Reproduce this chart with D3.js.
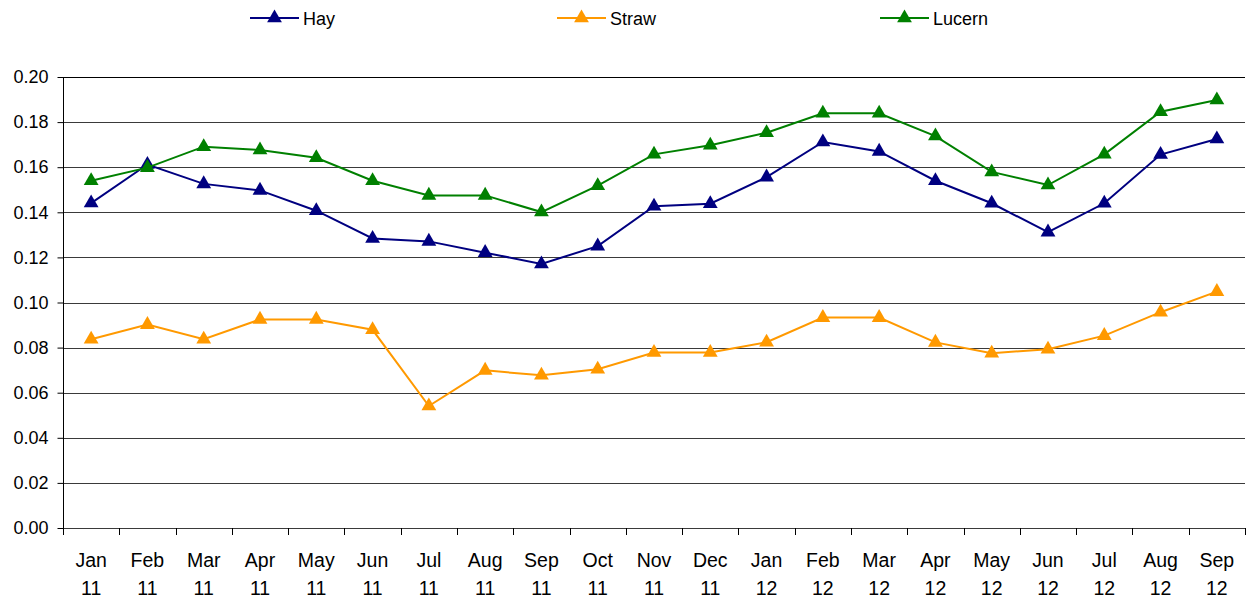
<!DOCTYPE html>
<html>
<head>
<meta charset="utf-8">
<script src="https://cdn.jsdelivr.net/npm/d3@7"></script>
<style>
  body { margin: 0; background: #fff; }
  svg { display: block; font-family: "Liberation Sans", Arial, sans-serif; }
</style>
</head>
<body>
<svg id="chart" width="1247" height="600"></svg>
<script>
const months = ["Jan","Feb","Mar","Apr","May","Jun","Jul","Aug","Sep","Oct","Nov","Dec",
                "Jan","Feb","Mar","Apr","May","Jun","Jul","Aug","Sep"];
const years  = ["11","11","11","11","11","11","11","11","11","11","11","11",
                "12","12","12","12","12","12","12","12","12"];
const categories = months.map((m, i) => m + " " + years[i]);

const hay = [0.1441,0.1612,0.1526,0.1497,0.1407,0.1284,0.1271,0.1221,0.1171,0.1250,0.1427,
             0.1438,0.1556,0.1712,0.1670,0.1540,0.1440,0.1312,0.1440,0.1656,0.1725];
const straw = [0.0837,0.0902,0.0837,0.0925,0.0925,0.0879,0.0541,0.0699,0.0677,0.0704,0.0778,
               0.0778,0.0824,0.0933,0.0933,0.0823,0.0775,0.0793,0.0853,0.0957,0.1048];
const lucern = [0.1540,0.1598,0.1691,0.1676,0.1642,0.1540,0.1475,0.1475,0.1401,0.1518,0.1657,
                0.1697,0.1753,0.1839,0.1839,0.1738,0.1579,0.1521,0.1657,0.1846,0.1898];
const yTicks = [0.00,0.02,0.04,0.06,0.08,0.10,0.12,0.14,0.16,0.18,0.20];

const seriesNames = ["Hay","Straw","Lucern"];
const seriesColors = ["#000080","#FF9900","#008000"];
const seriesData = [hay, straw, lucern];

const svg = d3.select("#chart");
const pLeft = 63, pRight = 1245, pTop = 77, pBottom = 528;

const x = d3.scaleBand().domain(categories).range([pLeft, pRight]).padding(0);
const y = d3.scaleLinear().domain([0, 0.20]).range([pBottom, pTop]);
const cx = c => x(c) + x.bandwidth() / 2;

// gridlines
svg.append("g").selectAll("line").data(yTicks).join("line")
  .attr("x1", pLeft).attr("x2", pRight)
  .attr("y1", d => Math.round(y(d)) + 0.5).attr("y2", d => Math.round(y(d)) + 0.5)
  .attr("stroke", d => d === 0.20 ? "#000" : "#3a3a3a").attr("stroke-width", 1);

// y axis
const yAxis = d3.axisLeft(y).tickValues(yTicks).tickFormat(d3.format(".2f")).tickSize(6).tickPadding(9);
const gy = svg.append("g").attr("transform", `translate(${pLeft + 0.5},0)`).call(yAxis);
gy.select(".domain").attr("stroke", "#000").attr("d", `M0,${pTop}V${pBottom}`);
gy.selectAll(".tick line").attr("stroke", "#000");
gy.selectAll(".tick text").attr("font-size", 18).attr("fill", "#000")
  .attr("font-family", '"Liberation Sans", Arial, sans-serif');

// x axis ticks at band edges
const edges = categories.map(c => x(c)).concat([pRight]);
svg.append("g").selectAll("line").data(edges).join("line")
  .attr("x1", d => Math.round(d) + 0.5).attr("x2", d => Math.round(d) + 0.5)
  .attr("y1", pBottom).attr("y2", pBottom + 7)
  .attr("stroke", "#000").attr("stroke-width", 1);

// x labels
const xl = svg.append("g").selectAll("text").data(categories).join("text")
  .attr("x", d => cx(d)).attr("text-anchor", "middle")
  .attr("font-size", 19.5).attr("fill", "#000");
xl.append("tspan").attr("x", d => cx(d)).attr("y", 567).text((d, i) => months[i]);
xl.append("tspan").attr("x", d => cx(d)).attr("y", 595).text((d, i) => years[i]);

// series
const line = d3.line().x((d, i) => cx(categories[i])).y(d => y(d));
const tri = d3.symbol().type(d3.symbolTriangle).size(95);

seriesData.forEach((data, si) => {
  const g = svg.append("g");
  g.append("path").datum(data).attr("d", line)
    .attr("fill", "none").attr("stroke", seriesColors[si]).attr("stroke-width", 2);
  g.selectAll("path.pt").data(data).join("path").attr("class", "pt")
    .attr("d", tri)
    .attr("transform", (d, i) => `translate(${cx(categories[i])},${y(d)})`)
    .attr("fill", seriesColors[si]);
});

// legend
const legendX = [250, 557, 880];
const lg = svg.append("g");
seriesNames.forEach((name, i) => {
  const g = lg.append("g").attr("transform", `translate(${legendX[i]},18)`);
  g.append("line").attr("x1", 0).attr("x2", 49).attr("y1", 0).attr("y2", 0)
    .attr("stroke", seriesColors[i]).attr("stroke-width", 2);
  g.append("path").attr("d", tri).attr("transform", "translate(24.5,0)").attr("fill", seriesColors[i]);
  g.append("text").attr("x", 53).attr("y", 7).attr("font-size", 18).attr("fill", "#000").text(name);
});
</script>
</body>
</html>
